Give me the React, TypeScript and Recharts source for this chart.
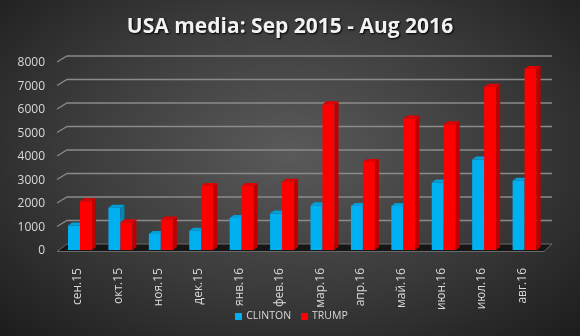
import React from 'react';
import { BarChart, Bar, XAxis, YAxis, CartesianGrid, Legend } from 'recharts';

const months = ['сен.15', 'окт.15', 'ноя.15', 'дек.15', 'янв.16', 'фев.16', 'мар.16', 'апр.16', 'май.16', 'июн.16', 'июл.16', 'авг.16'];
const clinton = [1040, 1800, 680, 820, 1360, 1550, 1900, 1870, 1870, 2870, 3850, 2950];
const trump = [2070, 1180, 1300, 2720, 2720, 2900, 6200, 3750, 5600, 5350, 6950, 7700];
const yTicks = [0, 1000, 2000, 3000, 4000, 5000, 6000, 7000, 8000];

const data = months.map((m, i) => ({ month: m, CLINTON: clinton[i], TRUMP: trump[i] }));

const DX = 4;
const DY = 3;
const GX = 10;
const GY = 6;
const PLOT_BOTTOM = 248;

const make3D = (front: string, side: string, top: string) => (props: any) => {
  const { x, y, width, height } = props;
  if (height == null || width == null) return null;
  return (
    <g>
      <rect x={x} y={y} width={width} height={height} fill={front} />
      <polygon points={`${x + width},${y} ${x + width + DX},${y - DY} ${x + width + DX},${y + height - DY} ${x + width},${y + height}`} fill={side} />
      <polygon points={`${x},${y} ${x + DX},${y - DY} ${x + width + DX},${y - DY} ${x + width},${y}`} fill={top} />
    </g>
  );
};

const gridLine = (props: any) => {
  const { x1, y1, x2 } = props;
  const left = x1 - 3;
  const right = x2 + 7;
  if (y1 > PLOT_BOTTOM - 4) {
    return (
      <g key={props.key}>
        <polygon points={`${left},${y1 + 1.5} ${left + GX},${y1 - GY} ${right},${y1 - GY} ${right - GX + 2},${y1 + 1.5}`} fill="#161616" stroke="#6a6a6a" strokeWidth={1} />
      </g>
    );
  }
  return (
    <path key={props.key} d={`M${left},${y1} L${left + GX},${y1 - GY} L${right},${y1 - GY}`} stroke="#8a8a8a" strokeWidth={1.3} fill="none" />
  );
};

const XTick = (props: any) => {
  const { x, y, payload } = props;
  return (
    <text x={x + 1} y={y + 10} transform={`rotate(-90, ${x + 1}, ${y + 10})`} textAnchor="end" fill="#d9d9d9" fontSize={12} fontFamily="'Open Sans', sans-serif">
      {payload.value}
    </text>
  );
};

export default function App() {
  return (
    <div style={{ position: 'fixed', left: 0, top: 0, width: 580, height: 336, background: 'radial-gradient(ellipse farthest-corner at 50% 45%, #5a5a5a 0%, #3a3a3a 55%, #1c1c1c 100%)', overflow: 'hidden' }}>
      <div style={{ position: 'absolute', left: 0, top: 11, width: 580, textAlign: 'center', color: '#f2f2f2', fontFamily: "'Open Sans', sans-serif", fontWeight: 700, fontSize: 21, textShadow: '1px 1px 2px #000' }}>
        USA media: Sep 2015 - Aug 2016
      </div>
      <BarChart width={580} height={336} data={data} margin={{ top: 62, right: 35, left: 0, bottom: 10 }} barGap={0} barSize={12}>
        <CartesianGrid vertical={false} horizontal={gridLine} />
        <XAxis dataKey="month" axisLine={false} tickLine={false} tick={<XTick />} height={62} interval={0} />
        <YAxis domain={[0, 8000]} ticks={yTicks} width={60} axisLine={false} tickLine={false} tickSize={0} tickMargin={15} tick={{ fill: '#d9d9d9', fontSize: 12, fontFamily: "'Open Sans', sans-serif" }} />
        <Legend verticalAlign="bottom" iconType="square" iconSize={7} wrapperStyle={{ fontSize: 10.5, fontFamily: "'Open Sans', sans-serif", bottom: 14, left: 24 }} formatter={(v: any) => <span style={{ color: '#d9d9d9' }}>{v}</span>} />
        <Bar dataKey="CLINTON" fill="#00b0f0" isAnimationActive={false} shape={make3D('#00b0f0', '#0086b8', '#00a0dc')} />
        <Bar dataKey="TRUMP" fill="#ff0000" isAnimationActive={false} shape={make3D('#ff0000', '#c00000', '#e00000')} />
      </BarChart>
    </div>
  );
}
